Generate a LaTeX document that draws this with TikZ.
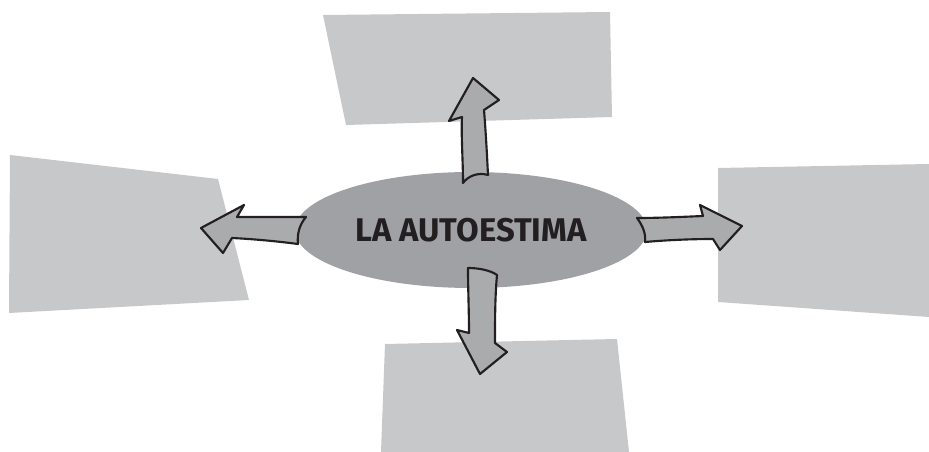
\documentclass[tikz,border=0pt]{standalone}
\usepackage{fontspec}
\newfontfamily\hubfont{Fira Sans}
\usepackage{xcolor}
\definecolor{panelfill}{HTML}{C7C8CA}
\definecolor{hubfill}{HTML}{A0A1A4}
\definecolor{arrowfill}{HTML}{AAABAD}
\definecolor{inkcolor}{HTML}{231F20}
\usetikzlibrary{shapes.geometric}
\tikzset{
    panel/.style={
        fill=panelfill,
    },
    hub/.style={
        ellipse,
        fill=hubfill,
        text=inkcolor,
        inner sep=0pt,
        minimum width=264pt,
        minimum height=87pt,
        font=\hubfont\bfseries\fontsize{24.6}{28}\selectfont,
    },
    blockarrow/.style={
        fill=arrowfill,
        draw=inkcolor,
        line width=1.6pt,
        line join=round,
    },
}

\begin{document}
\begin{tikzpicture}[x=0.75pt,y=-0.75pt]
    \useasboundingbox (0,0) rectangle (929,452);

    % Empty panels
    \fill[panel] (323,15) -- (610,12) -- (612,117) -- (346,125) -- cycle;
    \fill[panel] (10,155) -- (218,179) -- (249,300) -- (9,313) -- cycle;
    \fill[panel] (718,168) -- (929,164) -- (929,317) -- (718,302) -- cycle;
    \fill[panel] (385,344) -- (617,339) -- (629,452) -- (381,452) -- cycle;

    % Central topic
    \node[hub] (autoestima) at (471,230) {LA AUTOESTIMA};

    % Up
    \draw[blockarrow] (463,183) .. controls (463,160) and (461,135) .. (462,117)
        -- (449,121) -- (473,78) -- (499,100) -- (484,110)
        .. controls (486,135) and (487,155) .. (488,175)
        .. controls (478,172) and (468,176) .. (463,183) -- cycle;

    % Left
    \draw[blockarrow] (306,217) .. controls (299,225) and (297,235) .. (298,244)
        .. controls (275,241) and (252,239) .. (232,238)
        -- (223,253) -- (201,228) -- (244,205) -- (237,217)
        .. controls (262,217) and (285,217) .. (306,217) -- cycle;

    % Right
    \draw[blockarrow] (637,218) .. controls (643,226) and (646,234) .. (645,242)
        .. controls (668,240) and (692,239) .. (713,239)
        -- (720,250) -- (742,226) -- (700,205) -- (703,216)
        .. controls (680,217) and (658,218) .. (637,218) -- cycle;

    % Down
    \draw[blockarrow] (468,268) .. controls (478,268) and (490,270) .. (497,275)
        .. controls (495,297) and (495,320) .. (495,343)
        -- (507,352) -- (480,374) -- (457,330) -- (469,333)
        .. controls (469,310) and (468,290) .. (468,268) -- cycle;
\end{tikzpicture}
\end{document}
